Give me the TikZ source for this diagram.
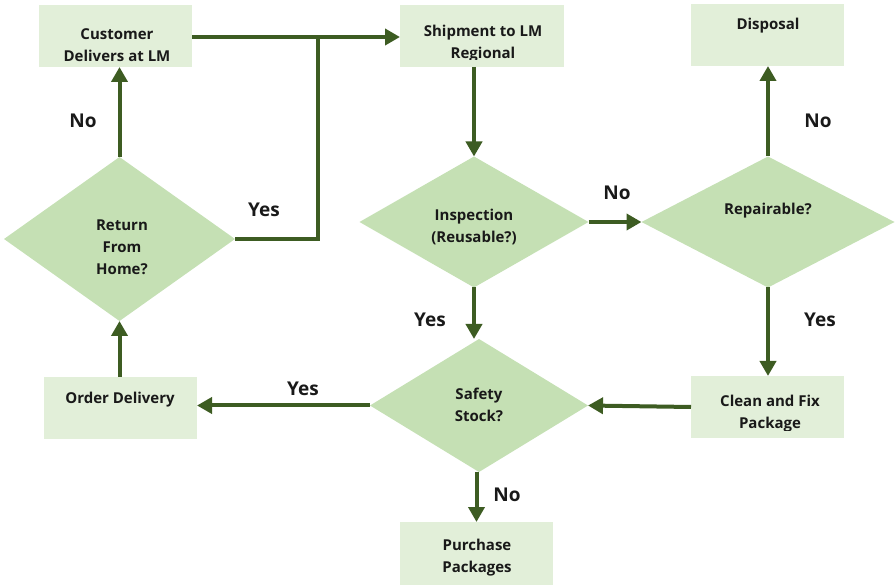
\documentclass[tikz,border=0pt]{standalone}
\usepackage{fontspec}
\setmainfont{Open Sans}
\usetikzlibrary{shapes.geometric,arrows.meta}
\definecolor{boxfill}{HTML}{E2EFD9}
\definecolor{decfill}{HTML}{C5E0B4}
\definecolor{flowgreen}{HTML}{3D5C22}
\begin{document}
\begin{tikzpicture}[x=1pt,y=-1pt,
  stepbox/.style={fill=boxfill, draw=none, inner sep=0pt, outer sep=0pt},
  decision/.style={diamond, fill=decfill, draw=none, inner sep=0pt, outer sep=0pt},
  txt/.style={font=\fontsize{15}{22}\selectfont\bfseries, align=center, text=black!90, inner sep=0pt},
  lbl/.style={font=\fontsize{19}{22}\selectfont\bfseries, text=black!90, inner sep=0pt},
  flow/.style={draw=flowgreen, line width=4pt, -{Triangle[length=15pt,width=16pt]}},
  link/.style={draw=flowgreen, line width=4pt}]
  \useasboundingbox (0,0) rectangle (895,585);

  % process boxes
  \node[stepbox, minimum width=153pt, minimum height=62pt] (cust) at (115.5,36) {};
  \node[stepbox, minimum width=164pt, minimum height=62pt] (ship) at (482,36) {};
  \node[stepbox, minimum width=153pt, minimum height=62pt] (disp) at (767.5,35) {};
  \node[stepbox, minimum width=153pt, minimum height=62pt] (order) at (120.5,408) {};
  \node[stepbox, minimum width=153pt, minimum height=62pt] (clean) at (767.5,407) {};
  \node[stepbox, minimum width=153pt, minimum height=63pt] (pur) at (476.5,553.5) {};

  % decisions
  \node[decision, minimum width=231pt, minimum height=164pt] (ret) at (119.5,239) {};
  \node[decision, minimum width=229pt, minimum height=131pt] (insp) at (474,222) {};
  \node[decision, minimum width=253pt, minimum height=131pt] (rep) at (768,222) {};
  \node[decision, minimum width=218pt, minimum height=133pt] (safe) at (479,405.5) {};

  % texts
  \node[txt] (custT) at (117,45) {Customer\\Delivers at LM};
  \begin{scope}
    \clip (400,5) rectangle (564,60);
    \node[txt] (shipT) at (483,44) {Shipment to LM\\Regional};
  \end{scope}
  \node[txt] (dispT) at (768,26) {Disposal};
  \node[txt] (orderT) at (120,400) {Order Delivery};
  \begin{scope}
    \clip (691,376) rectangle (844,431);
    \node[txt] (cleanT) at (770,414) {Clean and Fix\\Package};
  \end{scope}
  \node[txt] (purT) at (477,558) {Purchase\\Packages};
  \node[txt] (retT) at (122,247) {Return\\From\\Home?};
  \node[txt] (inspT) at (474,227) {Inspection\\(Reusable?)};
  \node[txt] (repT) at (768,211) {Repairable?};
  \node[txt] (safeT) at (479,405) {Safety\\Stock?};

  % connectors
  \coordinate (join) at (318,37);
  \draw[flow] (cust.east |- 0,37) -- (ship.west |- 0,37);
  \draw[link] (ret.east) -| (join);
  \draw[flow] (ret.north) -- (ret.north |- cust.south);
  \draw[flow] (insp.north |- ship.south) -- (insp.north);
  \draw[flow] (insp.east) -- (rep.west);
  \draw[flow] (insp.south) -- (insp.south |- safe.north);
  \draw[flow] (rep.north) -- (rep.north |- disp.south);
  \draw[flow] (rep.south) -- (rep.south |- clean.north);
  \draw[flow] (clean.west) -- (safe.east);
  \draw[flow] (safe.west) -- (safe.west -| order.east);
  \draw[flow] (pur.north |- safe.south) -- (pur.north);
  \draw[flow] (ret.south |- order.north) -- (ret.south);

  % branch labels
  \node[lbl] (l1) at (83,121) {No};
  \node[lbl] (l2) at (264,210) {Yes};
  \node[lbl] (l3) at (617,193) {No};
  \node[lbl] (l4) at (818,121) {No};
  \node[lbl] (l5) at (430,320) {Yes};
  \node[lbl] (l6) at (820,320) {Yes};
  \node[lbl] (l7) at (303,389) {Yes};
  \node[lbl] (l8) at (507,495) {No};
\end{tikzpicture}
\end{document}
